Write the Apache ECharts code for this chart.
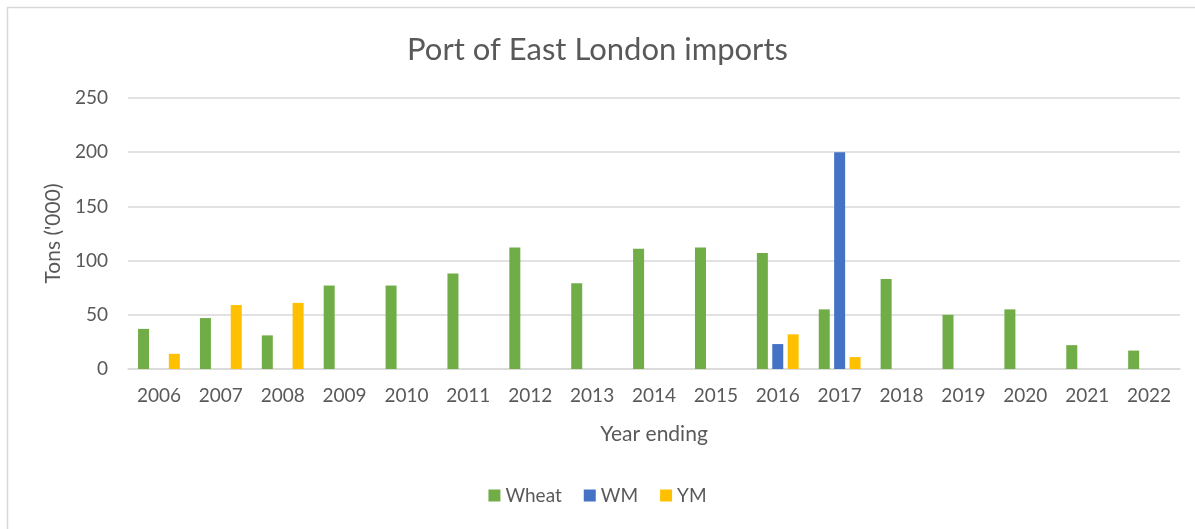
<!DOCTYPE html>
<html>
<head>
<meta charset="utf-8">
<script src="https://cdn.jsdelivr.net/npm/echarts@6/dist/echarts.min.js"></script>
<style>
  html, body { margin: 0; padding: 0; background: #fff; }
  #main { width: 1195px; height: 529px; }
</style>
</head>
<body>
<div id="main"></div>
<script>
// data
const years = ['2006', '2007', '2008', '2009', '2010', '2011', '2012', '2013', '2014',
  '2015', '2016', '2017', '2018', '2019', '2020', '2021', '2022'];
const wheat = [37, 47, 31, 77, 77, 88, 112, 79, 111, 112, 107, 55, 83, 50, 55, 22, 17];
const wm = [null, null, null, null, null, null, null, null, null, null, 23, 200, null, null, null, null, null];
const ym = [14, 59, 61, null, null, null, null, null, null, null, 32, 11, null, null, null, null, null];
const yTicks = [0, 50, 100, 150, 200, 250];

const font = 'Lato, "Open Sans", sans-serif';
const grey = '#595959';

let myChart = echarts.init(document.getElementById('main'));
myChart.setOption({
  backgroundColor: '#fff',
  animation: false,
  textStyle: { fontFamily: font },
  title: {
    text: 'Port of East London imports',
    left: 'center',
    top: 29,
    textStyle: { fontSize: 31, fontWeight: 'normal', color: grey, fontFamily: font }
  },
  graphic: [{
    type: 'rect',
    shape: { x: 7.5, y: 7.5, width: 1200, height: 540 },
    style: { fill: 'none', stroke: '#d9d9d9', lineWidth: 1.5 },
    silent: true
  }],
  legend: {
    bottom: 19,
    left: 'center',
    itemWidth: 12,
    itemHeight: 12,
    itemGap: 22,
    icon: 'rect',
    textStyle: { fontSize: 19, color: grey, fontFamily: font },
    data: ['Wheat', 'WM', 'YM']
  },
  grid: {
    left: 128,
    right: 15,
    top: 98,
    bottom: 160
  },
  xAxis: {
    type: 'category',
    data: years,
    name: 'Year ending',
    nameLocation: 'middle',
    nameGap: 55,
    nameTextStyle: { fontSize: 21, color: grey, fontFamily: font },
    axisTick: { show: false },
    axisLine: { lineStyle: { color: '#d9d9d9', width: 1.5 } },
    axisLabel: { fontSize: 19, color: grey, margin: 17, fontFamily: font }
  },
  yAxis: {
    type: 'value',
    min: yTicks[0],
    max: yTicks[yTicks.length - 1],
    interval: 50,
    name: "Tons ('000)",
    nameLocation: 'middle',
    nameGap: 63,
    nameTextStyle: { fontSize: 21, color: grey, fontFamily: font },
    splitLine: { lineStyle: { color: '#d9d9d9', width: 1.5 } },
    axisLine: { show: false },
    axisTick: { show: false },
    axisLabel: { fontSize: 19, color: grey, margin: 20, fontFamily: font }
  },
  series: [
    {
      name: 'Wheat',
      type: 'bar',
      data: wheat,
      barWidth: 11,
      barGap: '40%',
      itemStyle: { color: '#70ad47' }
    },
    {
      name: 'WM',
      type: 'bar',
      data: wm,
      barWidth: 11,
      barGap: '40%',
      itemStyle: { color: '#4472c4' }
    },
    {
      name: 'YM',
      type: 'bar',
      data: ym,
      barWidth: 11,
      barGap: '40%',
      itemStyle: { color: '#ffc000' }
    }
  ]
});
</script>
</body>
</html>
